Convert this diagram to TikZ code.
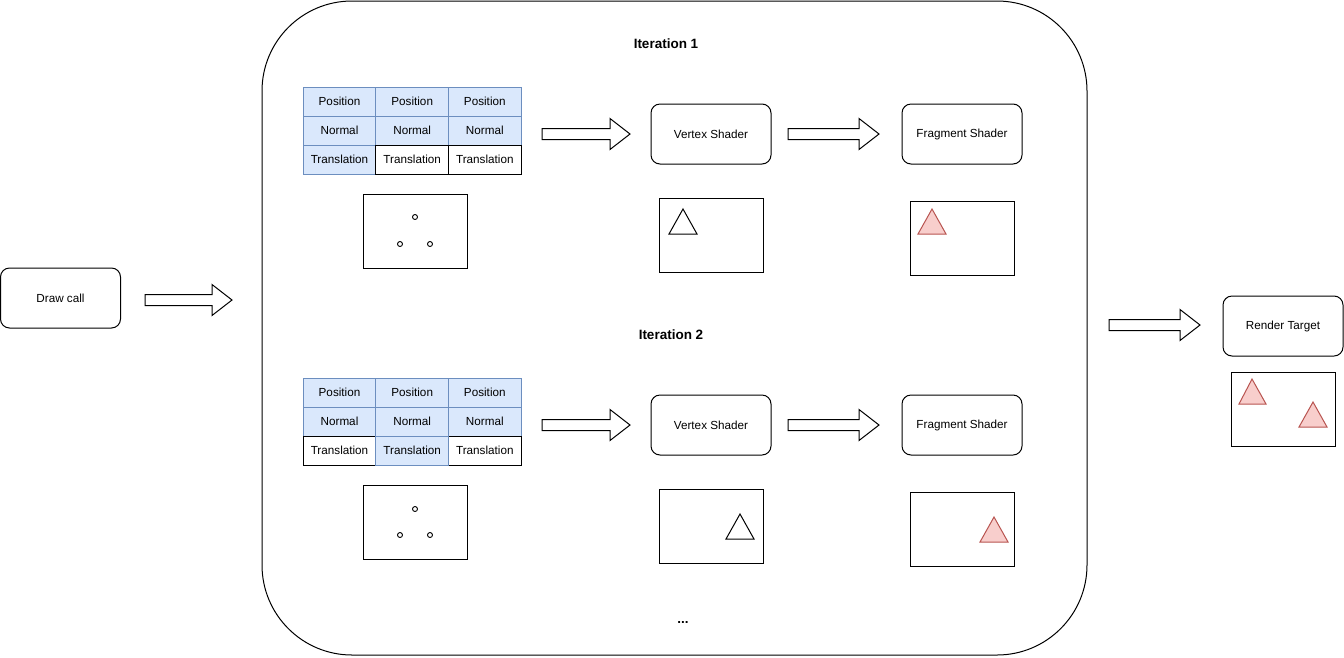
\documentclass[tikz,border=0pt]{standalone}
\usepackage{fontspec}
\setmainfont{Liberation Sans}
\begin{document}
\begin{tikzpicture}[x=1pt,y=-1pt,line width=1pt,
  every node/.style={font=\fontsize{11.7}{14}\selectfont},
  box/.style={draw,rounded corners=9pt,minimum width=120pt,minimum height=60pt,inner sep=0pt},
  cellb/.style={draw={rgb,255:red,108;green,142;blue,191},fill={rgb,255:red,218;green,232;blue,252},minimum width=72.7pt,minimum height=29pt,inner sep=0pt},
  cellw/.style={draw=black,fill=white,minimum width=72.7pt,minimum height=29pt,inner sep=0pt},
  frame/.style={draw,minimum width=104pt,minimum height=74pt,inner sep=0pt},
  blockarrow/.style={draw,line join=miter},
  tri/.style={draw=black},
  redtri/.style={draw={rgb,255:red,184;green,84;blue,80},fill={rgb,255:red,248;green,206;blue,204}},
  dot/.style={draw,circle,minimum size=5pt,inner sep=0pt,line width=0.9pt},
  title/.style={font=\fontsize{13.5}{16}\selectfont\bfseries}]
\useasboundingbox (0,0) rectangle (1344,657);
% block arrow: \barrow{x start}{x end}{y middle}
\newcommand\barrow[3]{\draw[blockarrow] (#1,#3-5.5) -- (#2-20,#3-5.5) -- (#2-20,#3-15.5) -- (#2,#3) -- (#2-20,#3+15.5) -- (#2-20,#3+5.5) -- (#1,#3+5.5) -- cycle;}

% outer container
\draw[rounded corners=90pt] (262,1) rectangle (1087,655);
\node[title] (it1) at (666,44) {Iteration 1};
\node[title] (it2) at (671,335) {Iteration 2};
\node[title] (dots) at (683,622) {...};

% draw call and render target
\node[box] (dc) at (60.5,298) {Draw call};
\barrow{145}{232}{300}
\node[box] (rt) at (1283,326) {Render Target};
\barrow{1109}{1200}{325}
\node[frame] (rtimg) at (1283,409) {};
\draw[redtri] (1252,379) -- (1266,404) -- (1239,404) -- cycle;
\draw[redtri] (1313,402) -- (1327,427) -- (1299,427) -- cycle;

% ---------- iteration 1 ----------
\foreach \c/\x in {a/339.5,b/412.2,c/484.8}{
  \node[cellb] (p1\c) at (\x,101.5) {Position};
  \node[cellb] (n1\c) at (\x,130.5) {Normal};
}
\node[cellb] (t1a) at (339.5,159.5) {Translation};
\node[cellw] (t1b) at (412.2,159.5) {Translation};
\node[cellw] (t1c) at (484.8,159.5) {Translation};
\node[frame] (pts1) at (415,231) {};
\node[dot] (v1a) at (415,217) {};
\node[dot] (v1b) at (400,244) {};
\node[dot] (v1c) at (430,244) {};
\barrow{542}{630}{134}
\node[box] (vs1) at (711,134) {Vertex Shader};
\barrow{788}{879}{134}
\node[box] (fs1) at (962,134) {Fragment Shader};
\node[frame] (vsimg1) at (711,235) {};
\draw[tri] (683,209) -- (697,234) -- (669,234) -- cycle;
\node[frame] (fsimg1) at (962,238) {};
\draw[redtri] (932,209) -- (946,234) -- (918,234) -- cycle;

% ---------- iteration 2 ----------
\foreach \c/\x in {a/339.5,b/412.2,c/484.8}{
  \node[cellb] (p2\c) at (\x,392.5) {Position};
  \node[cellb] (n2\c) at (\x,421.5) {Normal};
}
\node[cellw] (t2a) at (339.5,450.5) {Translation};
\node[cellw] (t2c) at (484.8,450.5) {Translation};
\node[cellb] (t2b) at (412.2,450.5) {Translation};
\node[frame] (pts2) at (415,522) {};
\node[dot] (v2a) at (415,509) {};
\node[dot] (v2b) at (400,535) {};
\node[dot] (v2c) at (430,535) {};
\barrow{542}{630}{425}
\node[box] (vs2) at (711,425) {Vertex Shader};
\barrow{788}{879}{425}
\node[box] (fs2) at (962,425) {Fragment Shader};
\node[frame] (vsimg2) at (711,526) {};
\draw[tri] (740,514) -- (754,539) -- (726,539) -- cycle;
\node[frame] (fsimg2) at (962,529) {};
\draw[redtri] (994,517) -- (1008,542) -- (980,542) -- cycle;
\end{tikzpicture}
\end{document}
